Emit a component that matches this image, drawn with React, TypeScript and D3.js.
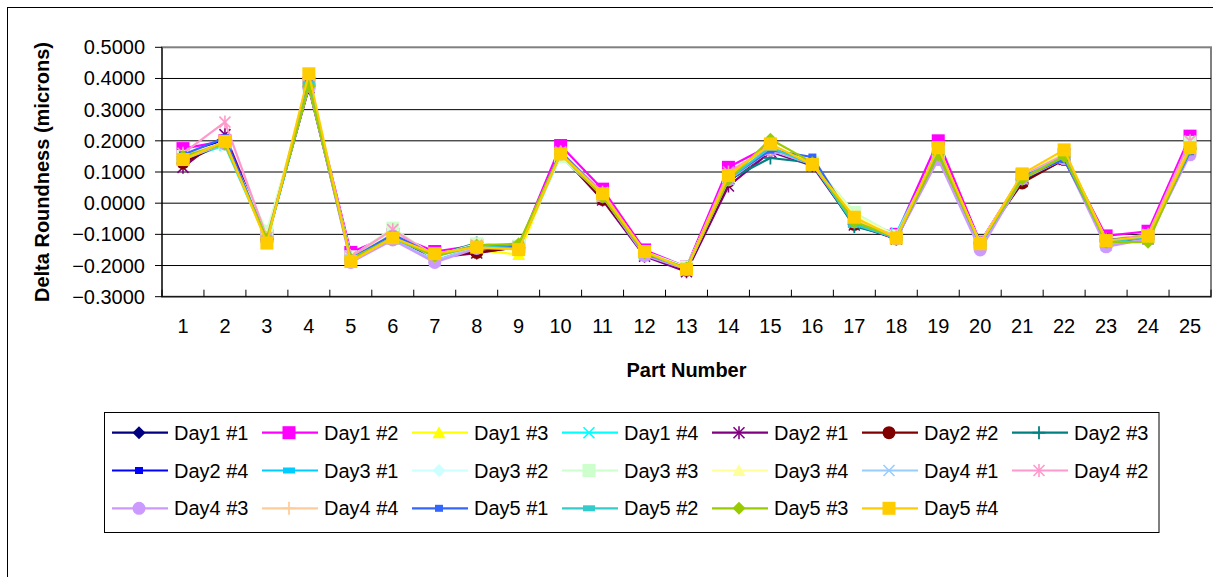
import React from "react";
import * as d3 from "d3";

const parts = d3.range(1, 26).map(String);
const yTicks = [0.5, 0.4, 0.3, 0.2, 0.1, 0.0, -0.1, -0.2, -0.3];

const seriesNames = [
  "Day1 #1", "Day1 #2", "Day1 #3", "Day1 #4", "Day2 #1", "Day2 #2", "Day2 #3",
  "Day2 #4", "Day3 #1", "Day3 #2", "Day3 #3", "Day3 #4", "Day4 #1", "Day4 #2",
  "Day4 #3", "Day4 #4", "Day5 #1", "Day5 #2", "Day5 #3", "Day5 #4",
];
const seriesColors = [
  "#000080", "#FF00FF", "#FFFF00", "#00FFFF", "#800080", "#800000", "#008080",
  "#0000FF", "#00CCFF", "#CCFFFF", "#CCFFCC", "#FFFF99", "#99CCFF", "#FF99CC",
  "#CC99FF", "#FFCC99", "#3366FF", "#33CCCC", "#99CC00", "#FFCC00",
];
const seriesMarkers = [
  "diamond", "square", "triangle", "x", "star", "circle", "plus",
  "dashS", "dashW", "diamond", "square", "triangle", "x", "star",
  "circle", "plus", "dashS", "dashW", "diamond", "square",
];

const day1_1 = [0.145, 0.195, -0.115, 0.375, -0.178, -0.110, -0.172, -0.150, -0.140, 0.160, 0.020, -0.165, -0.212, 0.070, 0.170, 0.130, -0.065, -0.115, 0.160, -0.130, 0.080, 0.140, -0.120, -0.110, 0.175];
const day1_2 = [0.175, 0.200, -0.105, 0.385, -0.158, -0.100, -0.155, -0.135, -0.140, 0.185, 0.045, -0.150, -0.205, 0.115, 0.185, 0.125, -0.050, -0.100, 0.200, -0.125, 0.090, 0.155, -0.105, -0.090, 0.215];
const day1_3 = [0.150, 0.190, -0.110, 0.380, -0.170, -0.105, -0.165, -0.150, -0.165, 0.165, 0.030, -0.160, -0.210, 0.090, 0.180, 0.130, -0.045, -0.110, 0.170, -0.130, 0.085, 0.160, -0.115, -0.105, 0.185];
const day1_4 = [0.140, 0.185, -0.120, 0.375, -0.175, -0.115, -0.168, -0.138, -0.145, 0.150, 0.025, -0.162, -0.208, 0.075, 0.175, 0.128, -0.060, -0.095, 0.165, -0.135, 0.080, 0.145, -0.125, -0.110, 0.170];
const day2_1 = [0.115, 0.220, -0.110, 0.370, -0.180, -0.112, -0.175, -0.160, -0.140, 0.155, 0.010, -0.170, -0.220, 0.055, 0.165, 0.120, -0.070, -0.115, 0.155, -0.130, 0.070, 0.140, -0.120, -0.115, 0.180];
const day2_2 = [0.130, 0.195, -0.112, 0.378, -0.178, -0.108, -0.170, -0.158, -0.142, 0.158, 0.012, -0.160, -0.215, 0.070, 0.170, 0.125, -0.068, -0.112, 0.160, -0.128, 0.065, 0.140, -0.118, -0.112, 0.178];
const day2_3 = [0.140, 0.192, -0.115, 0.380, -0.176, -0.110, -0.168, -0.128, -0.145, 0.160, 0.025, -0.158, -0.205, 0.075, 0.145, 0.130, -0.075, -0.108, 0.165, -0.132, 0.075, 0.145, -0.122, -0.110, 0.175];
const day2_4 = [0.150, 0.205, -0.115, 0.385, -0.175, -0.105, -0.168, -0.140, -0.140, 0.165, 0.030, -0.160, -0.208, 0.080, 0.175, 0.135, -0.060, -0.108, 0.170, -0.132, 0.085, 0.150, -0.120, -0.108, 0.180];
const day3_1 = [0.148, 0.198, -0.118, 0.382, -0.176, -0.110, -0.170, -0.138, -0.142, 0.162, 0.028, -0.162, -0.210, 0.082, 0.178, 0.128, -0.058, -0.108, 0.168, -0.130, 0.082, 0.155, -0.122, -0.105, 0.182];
const day3_2 = [0.150, 0.195, -0.100, 0.380, -0.172, -0.095, -0.178, -0.135, -0.138, 0.150, 0.028, -0.158, -0.205, 0.082, 0.175, 0.130, -0.045, -0.105, 0.165, -0.128, 0.085, 0.150, -0.125, -0.105, 0.180];
const day3_3 = [0.150, 0.190, -0.090, 0.380, -0.172, -0.080, -0.170, -0.130, -0.138, 0.150, 0.025, -0.155, -0.205, 0.085, 0.180, 0.130, -0.030, -0.105, 0.165, -0.128, 0.088, 0.152, -0.122, -0.105, 0.195];
const day3_4 = [0.155, 0.195, -0.105, 0.380, -0.170, -0.100, -0.165, -0.138, -0.140, 0.165, 0.030, -0.158, -0.208, 0.090, 0.185, 0.130, -0.040, -0.105, 0.170, -0.128, 0.090, 0.160, -0.118, -0.105, 0.185];
const day4_1 = [0.140, 0.190, -0.118, 0.378, -0.182, -0.115, -0.185, -0.140, -0.145, 0.160, 0.022, -0.165, -0.212, 0.075, 0.170, 0.125, -0.060, -0.110, 0.160, -0.140, 0.078, 0.145, -0.135, -0.115, 0.170];
const day4_2 = [0.160, 0.260, -0.110, 0.378, -0.172, -0.085, -0.170, -0.135, -0.140, 0.165, 0.035, -0.158, -0.210, 0.100, 0.180, 0.125, -0.055, -0.105, 0.165, -0.130, 0.088, 0.155, -0.120, -0.100, 0.200];
const day4_3 = [0.145, 0.190, -0.115, 0.375, -0.190, -0.118, -0.190, -0.145, -0.145, 0.158, 0.022, -0.168, -0.212, 0.075, 0.170, 0.125, -0.060, -0.115, 0.140, -0.150, 0.078, 0.142, -0.140, -0.115, 0.155];
const day4_4 = [0.150, 0.195, -0.112, 0.380, -0.175, -0.110, -0.170, -0.140, -0.145, 0.160, 0.025, -0.160, -0.210, 0.080, 0.175, 0.128, -0.055, -0.108, 0.165, -0.130, 0.082, 0.150, -0.120, -0.108, 0.180];
const day5_1 = [0.155, 0.210, -0.120, 0.390, -0.178, -0.100, -0.168, -0.135, -0.140, 0.165, 0.028, -0.162, -0.208, 0.080, 0.170, 0.148, -0.065, -0.110, 0.160, -0.132, 0.085, 0.140, -0.118, -0.108, 0.165];
const day5_2 = [0.145, 0.195, -0.118, 0.382, -0.178, -0.112, -0.170, -0.138, -0.145, 0.160, 0.025, -0.160, -0.210, 0.078, 0.178, 0.125, -0.068, -0.112, 0.170, -0.130, 0.080, 0.150, -0.125, -0.110, 0.170];
const day5_3 = [0.150, 0.190, -0.115, 0.375, -0.180, -0.110, -0.170, -0.135, -0.130, 0.160, 0.020, -0.160, -0.208, 0.075, 0.205, 0.130, -0.060, -0.110, 0.155, -0.130, 0.078, 0.150, -0.125, -0.125, 0.175];
const day5_4 = [0.140, 0.198, -0.128, 0.415, -0.187, -0.111, -0.162, -0.141, -0.149, 0.158, 0.030, -0.155, -0.212, 0.089, 0.190, 0.124, -0.045, -0.112, 0.178, -0.130, 0.094, 0.171, -0.120, -0.106, 0.178];

const seriesValues = [
  day1_1, day1_2, day1_3, day1_4, day2_1, day2_2, day2_3, day2_4, day3_1, day3_2,
  day3_3, day3_4, day4_1, day4_2, day4_3, day4_4, day5_1, day5_2, day5_3, day5_4,
];

const FONT = "Arial, 'Liberation Sans', sans-serif";

function Marker({ type, x, y, color, s = 1 }) {
  const h = 6.5 * s;
  switch (type) {
    case "diamond":
      return <polygon points={`${x},${y - h} ${x + h},${y} ${x},${y + h} ${x - h},${y}`} fill={color} />;
    case "square":
      return <rect x={x - h} y={y - h} width={2 * h} height={2 * h} fill={color} />;
    case "triangle":
      return <polygon points={`${x},${y - h} ${x + h},${y + h - 1} ${x - h},${y + h - 1}`} fill={color} />;
    case "x":
      return (
        <g stroke={color} strokeWidth={1.6}>
          <line x1={x - 5.5} y1={y - 5.5} x2={x + 5.5} y2={y + 5.5} />
          <line x1={x - 5.5} y1={y + 5.5} x2={x + 5.5} y2={y - 5.5} />
        </g>
      );
    case "star":
      return (
        <g stroke={color} strokeWidth={1.6}>
          <line x1={x - 5.5} y1={y - 5.5} x2={x + 5.5} y2={y + 5.5} />
          <line x1={x - 5.5} y1={y + 5.5} x2={x + 5.5} y2={y - 5.5} />
          <line x1={x} y1={y - 6.5} x2={x} y2={y + 6.5} />
        </g>
      );
    case "circle":
      return <circle cx={x} cy={y} r={h} fill={color} />;
    case "plus":
      return (
        <g stroke={color} strokeWidth={1.8}>
          <line x1={x - 6.5} y1={y} x2={x + 6.5} y2={y} />
          <line x1={x} y1={y - 6.5} x2={x} y2={y + 6.5} />
        </g>
      );
    case "dashS":
      return <rect x={x - 4} y={y - 3.5} width={8} height={7} fill={color} />;
    case "dashW":
      return <rect x={x - 6} y={y - 3} width={12} height={6} fill={color} />;
    default:
      return null;
  }
}

export default function App() {
  const left = 162, right = 1211, top = 47.3, bottom = 296.7;
  const x = d3.scalePoint().domain(parts).range([left, right]).padding(0.5);
  const y = d3.scaleLinear().domain([-0.3, 0.5]).range([bottom, top]);
  const step = x.step();
  const line = d3.line<number>().x((_, i) => x(parts[i])).y((d) => y(d));

  const legendX0 = 112, legendColW = 150, legendY0 = 432.7, legendRowH = 37.8;

  return (
    <svg width={1213} height={577} style={{ position: "absolute", left: 0, top: 0, background: "#fff" }} fontFamily={FONT}>
      <rect x={0} y={0} width={1213} height={577} fill="#fff" />
      <rect x={7.5} y={7.5} width={1300} height={700} fill="none" stroke="#000" strokeWidth={1} />

      {/* plot area */}
      <rect x={left} y={top} width={right - left} height={bottom - top} fill="#fff" stroke="#808080" strokeWidth={2} />
      {yTicks.map((t) => (
        <g key={"g" + t}>
          {t !== 0.5 && t !== -0.3 && (
            <line x1={left} x2={right} y1={y(t)} y2={y(t)} stroke="#000" strokeWidth={1} />
          )}
          <line x1={155} x2={left} y1={y(t)} y2={y(t)} stroke="#000" strokeWidth={1} />
          <text x={145} y={y(t) + 7} textAnchor="end" fontSize={20} fill="#000">
            {d3.format(".4f")(t)}
          </text>
        </g>
      ))}
      <line x1={left} x2={left} y1={top} y2={bottom} stroke="#000" strokeWidth={1} />
      <line x1={left} x2={right} y1={bottom} y2={bottom} stroke="#000" strokeWidth={1} />
      {d3.range(0, parts.length + 1).map((i) => (
        <line key={"xt" + i} x1={left + i * step} x2={left + i * step} y1={bottom - 7} y2={bottom} stroke="#000" strokeWidth={1} />
      ))}
      {parts.map((p) => (
        <text key={"xl" + p} x={x(p)} y={333} textAnchor="middle" fontSize={20} fill="#000">
          {p}
        </text>
      ))}

      {/* series */}
      {seriesValues.map((vals, si) => (
        <g key={"s" + si}>
          <path d={line(vals) || ""} fill="none" stroke={seriesColors[si]} strokeWidth={2.2} strokeLinejoin="round" />
          {vals.map((v, i) => (
            <Marker key={i} type={seriesMarkers[si]} x={x(parts[i])} y={y(v)} color={seriesColors[si]} />
          ))}
        </g>
      ))}

      {/* axis titles */}
      <text x={686.5} y={377} textAnchor="middle" fontSize={20} fontWeight="bold" fill="#000">
        Part Number
      </text>
      <text transform={`translate(49,${(top + bottom) / 2}) rotate(-90)`} textAnchor="middle" fontSize={20} fontWeight="bold" fill="#000">
        Delta Roundness (microns)
      </text>

      {/* legend */}
      <rect x={104.5} y={412.5} width={1054.5} height={120} fill="#fff" stroke="#000" strokeWidth={1} />
      {seriesNames.map((name, i) => {
        const col = i % 7, row = Math.floor(i / 7);
        const lx = legendX0 + col * legendColW;
        const ly = legendY0 + row * legendRowH;
        return (
          <g key={"lg" + i}>
            <line x1={lx} x2={lx + 56} y1={ly} y2={ly} stroke={seriesColors[i]} strokeWidth={2.2} />
            <Marker type={seriesMarkers[i]} x={lx + 27} y={ly} color={seriesColors[i]} />
            <text x={lx + 62} y={ly + 7} fontSize={20} fill="#000">
              {name}
            </text>
          </g>
        );
      })}
    </svg>
  );
}
